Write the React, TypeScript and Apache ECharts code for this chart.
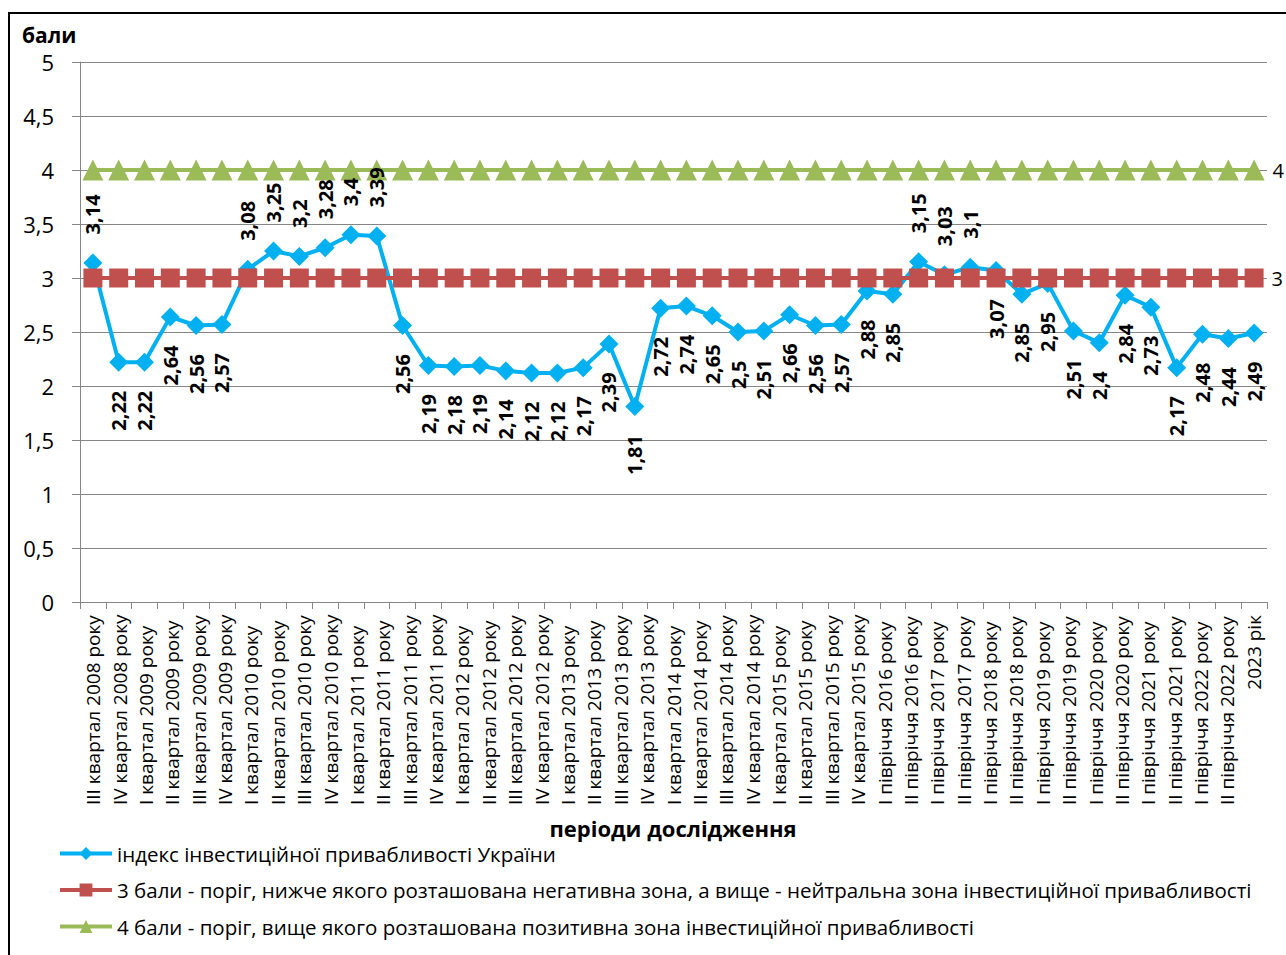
import React, { useEffect, useRef } from "react";
import * as echarts from "echarts";

const categoryLabels = [
  "III квартал 2008 року", "IV квартал 2008 року", "I квартал 2009 року", "II квартал 2009 року",
  "III квартал 2009 року", "IV квартал 2009 року", "I квартал 2010 року", "II квартал 2010 року",
  "III квартал 2010 року", "IV квартал 2010 року", "I квартал 2011 року", "II квартал 2011 року",
  "III квартал 2011 року", "IV квартал 2011 року", "I квартал 2012 року", "II квартал 2012 року",
  "III квартал 2012 року", "IV квартал 2012 року", "I квартал 2013 року", "II квартал 2013 року",
  "III квартал 2013 року", "IV квартал 2013 року", "I квартал 2014 року", "II квартал 2014 року",
  "III квартал 2014 року", "IV квартал 2014 року", "I квартал 2015 року", "II квартал 2015 року",
  "III квартал 2015 року", "IV квартал 2015 року", "I півріччя 2016 року", "II півріччя 2016 року",
  "I півріччя 2017 року", "II півріччя 2017 року", "I півріччя 2018 року", "II півріччя 2018 року",
  "I півріччя 2019 року", "II півріччя 2019 року", "I півріччя 2020 року", "II півріччя 2020 року",
  "I півріччя 2021 року", "II півріччя 2021 року", "I півріччя 2022 року", "II півріччя 2022 року",
  "2023 рік",
];

const indexValues = [
  3.14, 2.22, 2.22, 2.64, 2.56, 2.57, 3.08, 3.25, 3.2, 3.28, 3.4, 3.39, 2.56, 2.19, 2.18, 2.19,
  2.14, 2.12, 2.12, 2.17, 2.39, 1.81, 2.72, 2.74, 2.65, 2.5, 2.51, 2.66, 2.56, 2.57, 2.88, 2.85,
  3.15, 3.03, 3.1, 3.07, 2.85, 2.95, 2.51, 2.4, 2.84, 2.73, 2.17, 2.48, 2.44, 2.49,
];

const negativeThreshold = [
  3, 3, 3, 3, 3, 3, 3, 3, 3, 3, 3, 3, 3, 3, 3, 3, 3, 3, 3, 3, 3, 3, 3,
  3, 3, 3, 3, 3, 3, 3, 3, 3, 3, 3, 3, 3, 3, 3, 3, 3, 3, 3, 3, 3, 3, 3,
];

const positiveThreshold = [
  4, 4, 4, 4, 4, 4, 4, 4, 4, 4, 4, 4, 4, 4, 4, 4, 4, 4, 4, 4, 4, 4, 4,
  4, 4, 4, 4, 4, 4, 4, 4, 4, 4, 4, 4, 4, 4, 4, 4, 4, 4, 4, 4, 4, 4, 4,
];

const yTicks = [0, 0.5, 1, 1.5, 2, 2.5, 3, 3.5, 4, 4.5, 5];

const seriesNames = [
  "індекс інвестиційної привабливості України",
  "3 бали - поріг, нижче якого розташована негативна зона, а вище - нейтральна зона інвестиційної привабливості",
  "4 бали - поріг, вище якого розташована позитивна зона інвестиційної привабливості",
];

// label placement (style): indices whose value label sits above the point
const labelAbove = [0, 6, 7, 8, 9, 10, 11, 32, 33, 34];

const FONT = "'Open Sans', 'Noto Sans', sans-serif";
const comma = (v: number) => String(v).replace(".", ",");

export default function App() {
  const ref = useRef<HTMLDivElement>(null);
  useEffect(() => {
    if (!ref.current) return;
    const chart = echarts.init(ref.current, undefined, { renderer: "svg" });
    const last = indexValues.length - 1;
    const lastCat = categoryLabels.length - 1;
    const aboveLabel = {
      show: true, position: "top", rotate: 90, align: "left", verticalAlign: "middle",
      distance: 19,
    };
    const belowLabel = {
      show: true, position: "bottom", rotate: 90, align: "right", verticalAlign: "middle",
      distance: 19,
    };
    const endLabel = { show: true };
    const option: any = {
      animation: false,
      textStyle: { fontFamily: FONT },
      grid: { left: 80, right: 19, top: 62, bottom: 353 },
      graphic: [
        {
          type: "rect", shape: { x: 9, y: 13, width: 1300, height: 1000 },
          style: { fill: "none", stroke: "#000", lineWidth: 2 }, silent: true,
        },
        {
          type: "text", x: 22, y: 35,
          style: { text: "бали", font: `bold 21px ${FONT}`, fill: "#000", verticalAlign: "middle" },
        },
        {
          type: "text", x: 673, y: 828,
          style: { text: "періоди дослідження", font: `bold 22px ${FONT}`, fill: "#000", align: "center", verticalAlign: "middle" },
        },
      ],
      legend: {
        orient: "vertical", left: 53, top: 838, itemWidth: 52, itemHeight: 16, itemGap: 15.5,
        textStyle: { fontSize: 20.5, color: "#000", fontFamily: FONT },
        lineStyle: { width: 4 },
        data: seriesNames,
      },
      xAxis: [
        {
          type: "category", data: indexValues.map((_, i) => String(i)), boundaryGap: true,
          axisLine: { lineStyle: { color: "#868686", width: 1 } },
          axisTick: { show: true, length: 7, lineStyle: { color: "#868686" } },
          axisLabel: { show: false },
          splitLine: { show: false },
        },
        {
          type: "category", data: categoryLabels,
          position: "bottom", boundaryGap: true,
          axisLine: { show: false }, axisTick: { show: false }, splitLine: { show: false },
          axisLabel: {
            interval: 0, rotate: 90, align: "left", verticalAlign: "middle", margin: 203,
            fontSize: 19, color: "#000", fontFamily: FONT,
            formatter: (v: string, i: number) => (i === lastCat ? `{end|${v}}` : v),
            rich: { end: { width: 190, align: "right", fontSize: 19, color: "#000", fontFamily: FONT } },
          },
        },
      ],
      yAxis: {
        type: "value", min: 0, max: 5, interval: 0.5,
        axisLine: { show: true, lineStyle: { color: "#868686", width: 1 } },
        axisTick: { show: true, length: 8, lineStyle: { color: "#868686" } },
        splitLine: { show: true, lineStyle: { color: "#868686", width: 1 } },
        axisLabel: {
          margin: 26, fontSize: 22, color: "#000", fontFamily: FONT,
          formatter: (v: number) => (yTicks.includes(v) ? comma(v) : ""),
        },
      },
      series: [
        {
          name: seriesNames[0], type: "line", xAxisIndex: 0, showAllSymbol: true,
          data: indexValues,
          symbol: "diamond", symbolSize: 19,
          lineStyle: { color: "#00B0F0", width: 4 },
          itemStyle: { color: "#00B0F0" },
          z: 2,
        },
        {
          name: seriesNames[1], type: "line", xAxisIndex: 0, showAllSymbol: true,
          data: negativeThreshold.map((v, i) => (i === last ? { value: v, label: endLabel } : v)),
          symbol: "rect", symbolSize: 19,
          lineStyle: { color: "#C0504D", width: 4 },
          itemStyle: { color: "#C0504D" },
          label: {
            show: false, position: "right", distance: 8, fontSize: 20, color: "#000", fontFamily: FONT,
          },
          z: 3,
        },
        {
          name: seriesNames[2], type: "line", xAxisIndex: 0, showAllSymbol: true,
          data: positiveThreshold.map((v, i) => (i === last ? { value: v, label: endLabel } : v)),
          symbol: "triangle", symbolSize: 21,
          lineStyle: { color: "#9BBB59", width: 4 },
          itemStyle: { color: "#9BBB59" },
          label: {
            show: false, position: "right", distance: 8, fontSize: 20, color: "#000", fontFamily: FONT,
          },
          z: 4,
        },
        {
          name: "labels", type: "line", xAxisIndex: 0, showAllSymbol: true, silent: true,
          data: indexValues.map((v, i) => ({ value: v, label: labelAbove.includes(i) ? aboveLabel : belowLabel })),
          symbol: "diamond", symbolSize: 19,
          lineStyle: { width: 0, color: "rgba(0,0,0,0)" },
          itemStyle: { color: "rgba(0,0,0,0)" },
          label: {
            show: true, fontSize: 20, fontWeight: "bold", color: "#000", fontFamily: FONT, opacity: 1,
            formatter: (p: any) => comma(p.value),
          },
          z: 10,
        },
      ],
    };
    chart.setOption(option);
    return () => chart.dispose();
  }, []);
  return (
    <div
      ref={ref}
      style={{ position: "fixed", left: 0, top: 0, width: 1286, height: 955, background: "#fff" }}
    />
  );
}
